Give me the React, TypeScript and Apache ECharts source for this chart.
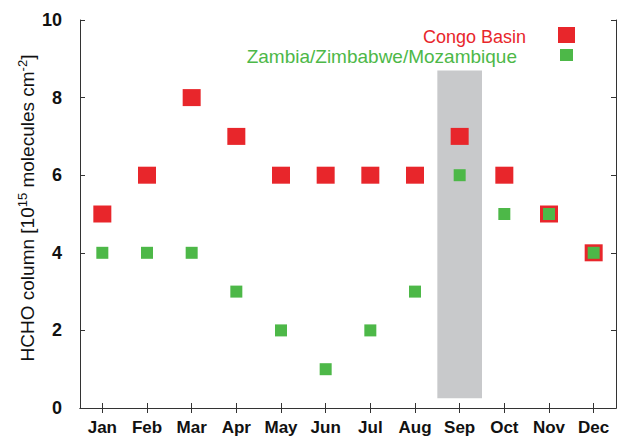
import React, { useEffect, useRef } from "react";
import * as echarts from "echarts";

const months = ["Jan", "Feb", "Mar", "Apr", "May", "Jun", "Jul", "Aug", "Sep", "Oct", "Nov", "Dec"];
const congoBasin = [5, 6, 8, 7, 6, 6, 6, 6, 7, 6, 5, 4];
const zambiaZimMoz = [4, 4, 4, 3, 2, 1, 2, 3, 6, 5, 5, 4];
// highlighted month band (Sep): lower edge and height in axis units
const bandLow: (number | string)[] = ["-", "-", "-", "-", "-", "-", "-", "-", 0.25, "-", "-", "-"];
const bandHeight: (number | string)[] = ["-", "-", "-", "-", "-", "-", "-", "-", 8.45, "-", "-", "-"];
const yTicks = [0, 10, 2];

const RED = "#e8262b";
const GREEN = "#4db848";
const FONT = "'Liberation Sans', Arial, sans-serif";

export default function App() {
  const ref = useRef<HTMLDivElement>(null);
  useEffect(() => {
    if (!ref.current) return;
    const chart = echarts.init(ref.current, undefined, { renderer: "svg" });
    const axisLine = { show: true, lineStyle: { color: "#333", width: 1 } };
    chart.setOption({
      animation: false,
      backgroundColor: "#fff",
      grid: { left: 80, right: 1, top: 20, bottom: 30 },
      xAxis: [
        {
          type: "category",
          data: months,
          boundaryGap: true,
          axisLine,
          axisTick: { show: true, inside: true, length: 5, alignWithLabel: true, lineStyle: { color: "#333" } },
          axisLabel: { color: "#111", fontFamily: FONT, fontWeight: "bold", fontSize: 17, margin: 11 },
          splitLine: { show: false },
        },
        {
          type: "category",
          data: months,
          position: "top",
          boundaryGap: true,
          axisLine,
          axisTick: { show: true, inside: true, length: 5, alignWithLabel: true, lineStyle: { color: "#333" } },
          axisLabel: { show: false },
        },
      ],
      yAxis: [
        {
          type: "value",
          min: yTicks[0],
          max: yTicks[1],
          interval: yTicks[2],
          axisLine,
          axisTick: { show: true, inside: true, length: 5, lineStyle: { color: "#333" } },
          axisLabel: { color: "#111", fontFamily: FONT, fontWeight: "bold", fontSize: 18, margin: 18 },
          splitLine: { show: false },
        },
        {
          type: "value",
          min: yTicks[0],
          max: yTicks[1],
          interval: yTicks[2],
          position: "right",
          axisLine,
          axisTick: { show: true, inside: true, length: 5, lineStyle: { color: "#333" } },
          axisLabel: { show: false },
          splitLine: { show: false },
        },
      ],
      series: [
        {
          type: "bar",
          stack: "band",
          data: bandLow,
          barWidth: "100%",
          itemStyle: { color: "rgba(0,0,0,0)" },
          silent: true,
          z: 1,
        },
        {
          type: "bar",
          stack: "band",
          data: bandHeight,
          barWidth: "100%",
          itemStyle: { color: "#c8c9cb" },
          silent: true,
          z: 1,
        },
        {
          name: "Congo Basin",
          type: "scatter",
          data: congoBasin,
          symbol: "rect",
          symbolSize: [18, 17],
          itemStyle: { color: RED, opacity: 1 },
          z: 3,
        },
        {
          name: "Zambia/Zimbabwe/Mozambique",
          type: "scatter",
          data: zambiaZimMoz,
          symbol: "rect",
          symbolSize: 12,
          itemStyle: { color: GREEN, opacity: 1 },
          z: 4,
        },
      ],
      graphic: [
        {
          type: "text",
          x: 27,
          y: 208,
          rotation: Math.PI / 2,
          style: {
            text: "HCHO column [10{sup|15} molecules cm{sup|-2}]",
            fill: "#111",
            font: `19px ${FONT}`,
            align: "center",
            verticalAlign: "middle",
            rich: {
              sup: { fontSize: 13, fontFamily: FONT, fill: "#111", verticalAlign: "top", padding: [0, 0, 9, 0] },
            },
          },
          z: 10,
        },
        {
          type: "text",
          x: 526,
          y: 37,
          style: { text: "Congo Basin", fill: RED, font: `18px ${FONT}`, align: "right", verticalAlign: "middle" },
          z: 10,
        },
        {
          type: "text",
          x: 517,
          y: 56,
          style: { text: "Zambia/Zimbabwe/Mozambique", fill: GREEN, font: `19px ${FONT}`, align: "right", verticalAlign: "middle" },
          z: 10,
        },
        { type: "rect", shape: { x: 558, y: 27, width: 17, height: 16 }, style: { fill: RED }, z: 10 },
        { type: "rect", shape: { x: 560, y: 49, width: 13, height: 12 }, style: { fill: GREEN }, z: 10 },
      ],
    });
    return () => chart.dispose();
  }, []);
  return <div ref={ref} style={{ width: 617, height: 438, position: "absolute", left: 0, top: 0 }} />;
}
